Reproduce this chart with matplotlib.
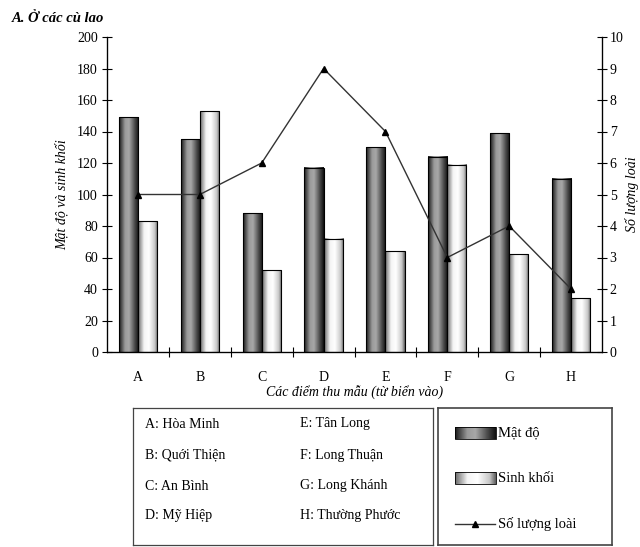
import matplotlib
matplotlib.use("Agg")
import matplotlib.pyplot as plt
import numpy as np
from matplotlib.colors import LinearSegmentedColormap
from matplotlib.lines import Line2D

plt.rcParams['font.family'] = ['Liberation Serif', 'DejaVu Serif']

categories = ["A", "B", "C", "D", "E", "F", "G", "H"]
mat_do = [149, 135, 88, 117, 130, 124, 139, 110]
sinh_khoi = [83, 153, 52, 72, 64, 119, 62, 34]
so_luong_loai = [5, 5, 6, 9, 7, 3, 4, 2]
site_names = ["A: Hòa Minh", "B: Quới Thiện", "C: An Bình", "D: Mỹ Hiệp",
              "E: Tân Long", "F: Long Thuận", "G: Long Khánh", "H: Thường Phước"]

dark_cmap = LinearSegmentedColormap.from_list(
    "dark", [(0, "#1a1a1a"), (0.3, "#9a9a9a"), (0.5, "#a8a8a8"), (0.8, "#4a4a4a"), (1, "#101010")])
light_cmap = LinearSegmentedColormap.from_list(
    "light", [(0, "#6a6a6a"), (0.3, "#f4f4f4"), (0.55, "#ffffff"), (0.85, "#c8c8c8"), (1, "#606060")])
grad = np.linspace(0, 1, 64).reshape(1, -1)

fig = plt.figure(figsize=(6.4, 5.47), dpi=100)
ax = fig.add_axes([107/640, 1-352/547, 495/640, 315/547])
ax2 = ax.twinx()

x = np.arange(len(categories))
w = 0.31
bars1 = ax.bar(x - w/2, mat_do, w, facecolor="none", edgecolor="black", linewidth=0.8, zorder=3)
bars2 = ax.bar(x + w/2, sinh_khoi, w, facecolor="none", edgecolor="black", linewidth=0.8, zorder=3)
for bars, cmap in ((bars1, dark_cmap), (bars2, light_cmap)):
    for b in bars:
        x0, y0 = b.get_x(), b.get_y()
        ax.imshow(grad, cmap=cmap, aspect="auto",
                  extent=[x0, x0 + b.get_width(), y0, y0 + b.get_height()],
                  zorder=2, interpolation="bilinear")
ax.set_xlim(-0.5, len(categories) - 0.5)
ax.set_ylim(0, 200)
ax.set_yticks(np.arange(0, 201, 20))
ax.set_xticks(x)
ax.set_xticklabels(categories, fontsize=10)
ax.tick_params(axis="x", which="major", length=0, pad=14)
ax.set_xticks(np.arange(0.5, len(categories) - 0.5, 1), minor=True)
ax.tick_params(axis="x", which="minor", direction="inout", length=7, width=0.8)
ax.tick_params(axis="y", direction="inout", length=7, width=0.8, labelsize=10, pad=3)
ax.spines["top"].set_visible(False)
ax2.spines["top"].set_visible(False)
for s in ("left", "bottom"):
    ax.spines[s].set_linewidth(0.9)
ax2.spines["right"].set_linewidth(0.9)

ax2.plot(x, so_luong_loai, color="#333333", linewidth=1.0, marker="^",
         markersize=5, markerfacecolor="black", markeredgecolor="black", zorder=5)
ax2.set_ylim(0, 10)
ax2.set_yticks(np.arange(0, 11, 1))
ax2.tick_params(axis="y", direction="inout", length=7, width=0.8, labelsize=10, pad=2)
ax.set_zorder(ax2.get_zorder() - 1)
ax.patch.set_visible(True)
ax2.patch.set_visible(False)

ax.set_ylabel("Mật độ và sinh khối", fontstyle="italic", fontsize=10, labelpad=6)
ax2.set_ylabel("Số lượng loài", fontstyle="italic", fontsize=10, rotation=90, labelpad=1)
ax.set_xlabel("Các điểm thu mẫu (từ biển vào)", fontstyle="italic", fontsize=10, labelpad=1)

fig.text(12/640, 1-18/547, "A. Ở các cù lao", fontsize=10.5, fontweight="bold",
         fontstyle="italic", va="center", ha="left")

# Site name box
lb = fig.add_axes([133/640, 2/547, 300/640, 137/547])
lb.set_xlim(0, 300); lb.set_ylim(137, 0)
lb.set_xticks([]); lb.set_yticks([])
for s in lb.spines.values():
    s.set_linewidth(0.9); s.set_color("#444444")
ys = [16, 47, 78, 107]
for i, name in enumerate(site_names):
    col = i // 4
    row = i % 4
    lb.text(12 if col == 0 else 167, ys[row], name, fontsize=10, va="center", ha="left")

# Series legend box
rb = fig.add_axes([438/640, 2/547, 174/640, 137/547])
rb.set_xticks([]); rb.set_yticks([])
for s in rb.spines.values():
    s.set_linewidth(1.2); s.set_color("#444444")
rb.imshow(grad, cmap=dark_cmap, aspect="auto", extent=[17, 58, 31, 19], zorder=2)
rb.add_patch(plt.Rectangle((17, 19), 41, 12, fill=False, edgecolor="black", lw=0.6, zorder=3))
rb.imshow(grad, cmap=light_cmap, aspect="auto", extent=[17, 58, 76, 64], zorder=2)
rb.add_patch(plt.Rectangle((17, 64), 41, 12, fill=False, edgecolor="black", lw=0.6, zorder=3))
rb.add_line(Line2D([17, 57], [116, 116], color="#333333", lw=1.0))
rb.plot([37], [116], marker="^", color="black", markersize=5)
rb.text(60, 25, "Mật độ", fontsize=10.5, va="center", ha="left")
rb.text(60, 70, "Sinh khối", fontsize=10.5, va="center", ha="left")
rb.text(60, 116, "Số lượng loài", fontsize=10.5, va="center", ha="left")
rb.set_xlim(0, 174); rb.set_ylim(137, 0)

fig.savefig("out.png", dpi=100)
